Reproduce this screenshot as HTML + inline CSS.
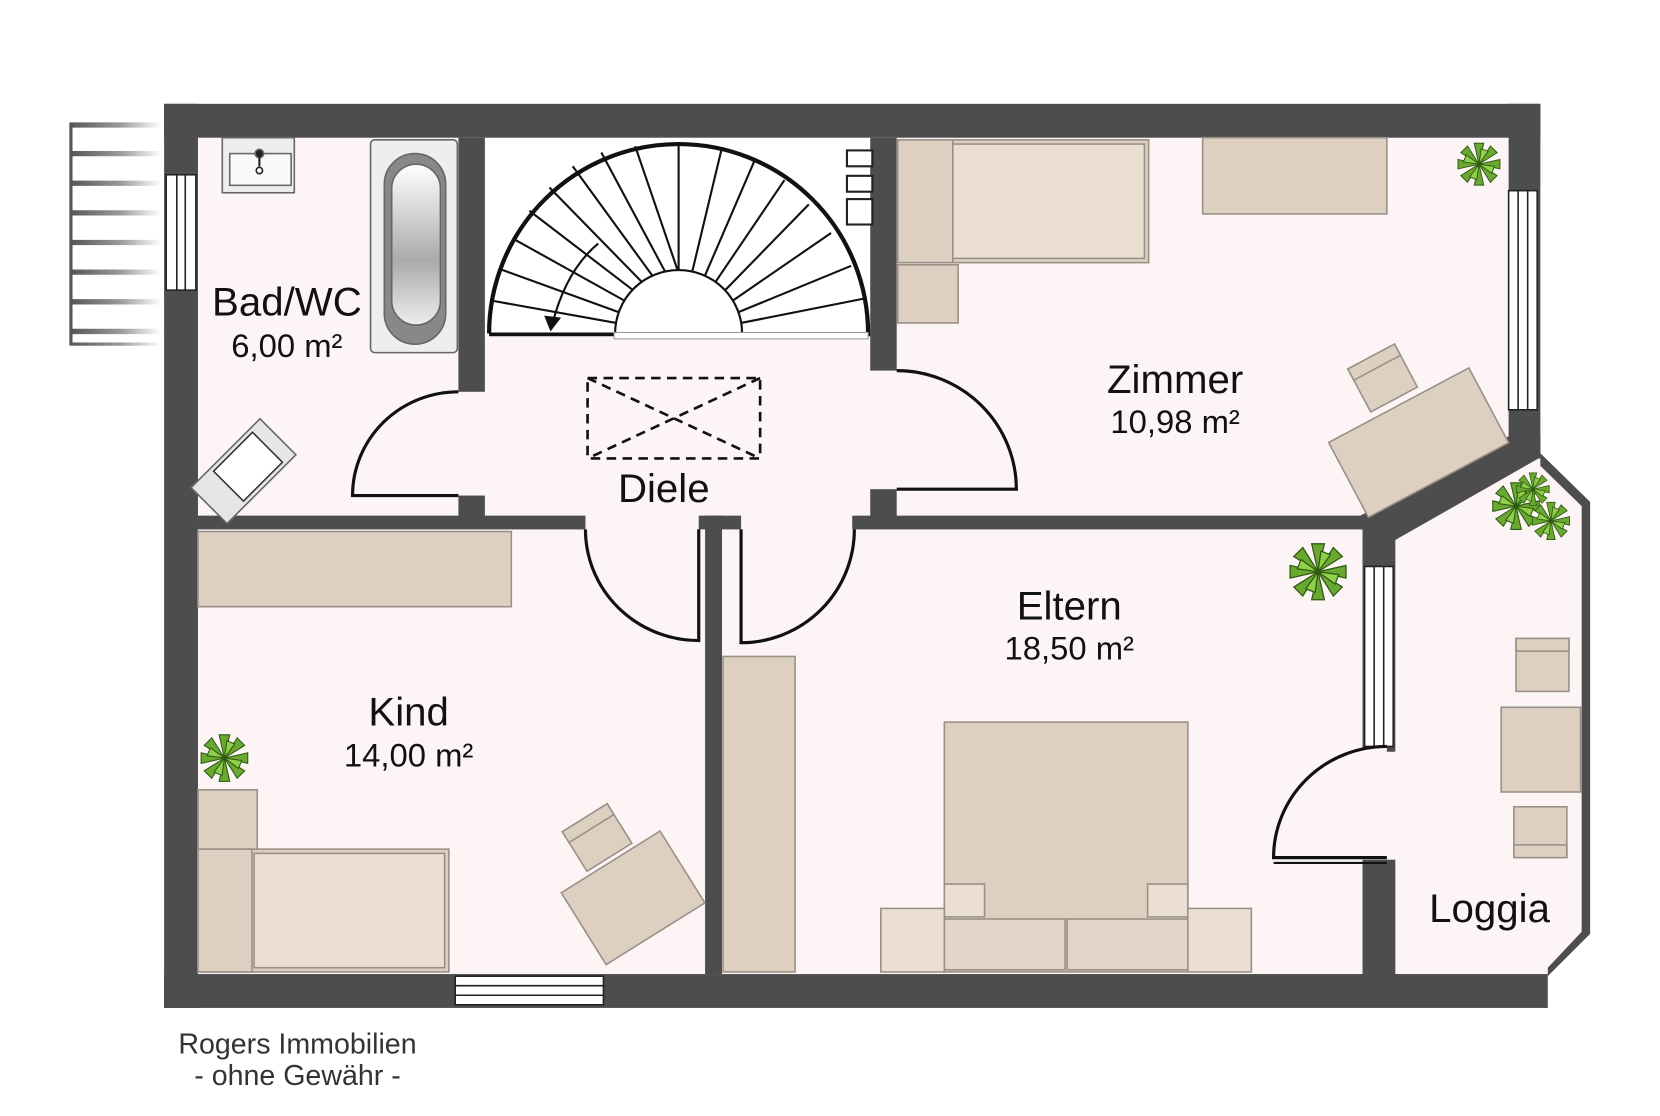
<!DOCTYPE html>
<html><head><meta charset="utf-8"><style>
html,body{margin:0;padding:0;background:#fff;}
svg{display:block;}
text{font-family:"Liberation Sans",sans-serif;fill:#111;text-anchor:middle;}
</style></head><body>
<svg width="1660" height="1116" viewBox="0 0 1568 1054" xmlns="http://www.w3.org/2000/svg">
<defs>
<linearGradient id="rad" gradientUnits="userSpaceOnUse" x1="66" y1="0" x2="152" y2="0"><stop offset="0" stop-color="#555"/><stop offset="0.55" stop-color="#999"/><stop offset="1" stop-color="#fff"/></linearGradient>
<linearGradient id="tub" x1="0" y1="0" x2="0" y2="1"><stop offset="0" stop-color="#fff"/><stop offset="0.6" stop-color="#aaa"/><stop offset="1" stop-color="#eee"/></linearGradient>
<g id="plant"><g fill="#6aa832" stroke="#2d5a12" stroke-width="1">
<path d="M0,0 L-5,-22 L5,-22Z"/><path d="M0,0 L-5,-22 L5,-22Z" transform="rotate(45)"/><path d="M0,0 L-5,-22 L5,-22Z" transform="rotate(90)"/><path d="M0,0 L-5,-22 L5,-22Z" transform="rotate(135)"/><path d="M0,0 L-5,-22 L5,-22Z" transform="rotate(180)"/><path d="M0,0 L-5,-22 L5,-22Z" transform="rotate(225)"/><path d="M0,0 L-5,-22 L5,-22Z" transform="rotate(270)"/><path d="M0,0 L-5,-22 L5,-22Z" transform="rotate(315)"/>
<path d="M0,0 L-4,-16 L4,-16Z" fill="#8fcf4a" transform="rotate(22)"/><path d="M0,0 L-4,-16 L4,-16Z" fill="#8fcf4a" transform="rotate(112)"/><path d="M0,0 L-4,-16 L4,-16Z" fill="#8fcf4a" transform="rotate(202)"/><path d="M0,0 L-4,-16 L4,-16Z" fill="#8fcf4a" transform="rotate(292)"/></g></g>
</defs>
<polygon points="155,98 1455,98 1455,430 1500,475 1500,880 1462,920 1462,952 155,952" fill="#fdf5f5"/>
<rect x="458" y="130" width="364" height="188" fill="#fff"/>
<g stroke="url(#rad)" stroke-width="5">
<line x1="66" y1="118" x2="152" y2="118"/><line x1="66" y1="145" x2="152" y2="145"/><line x1="66" y1="173" x2="152" y2="173"/><line x1="66" y1="201" x2="152" y2="201"/><line x1="66" y1="229" x2="152" y2="229"/><line x1="66" y1="257" x2="152" y2="257"/><line x1="66" y1="285" x2="152" y2="285"/><line x1="66" y1="313" x2="152" y2="313"/></g>
<line x1="67" y1="116" x2="67" y2="326" stroke="#555" stroke-width="3"/>
<line x1="66" y1="325" x2="152" y2="325" stroke="url(#rad)" stroke-width="3"/>
<g fill="#4d4d4d">
<rect x="155" y="98" width="1300" height="32"/>
<rect x="155" y="98" width="32" height="854"/>
<rect x="155" y="920" width="1307" height="32"/>
<rect x="1425" y="98" width="30" height="335"/>
<polygon points="1455,428 1502,474 1502,882 1462,922 1462,914 1494,880 1494,478 1455,440"/>
<rect x="433" y="130" width="25" height="240"/>
<rect x="433" y="468" width="25" height="30"/>
<rect x="187" y="487" width="366" height="13"/>
<rect x="822" y="130" width="25" height="220"/>
<rect x="822" y="462" width="25" height="36"/>
<rect x="660" y="487" width="40" height="13"/>
<rect x="666" y="487" width="16" height="433"/>
<rect x="805" y="487" width="490" height="13"/>
<polygon points="1285,487 1425,412 1455,412 1455,432 1318,510 1290,510"/>
<rect x="1287" y="500" width="31" height="210"/>
<rect x="1287" y="812" width="31" height="110"/>
</g>
<g fill="#fff" stroke="#222" stroke-width="1.5">
<rect x="157" y="165" width="28" height="109"/><line x1="167" y1="165" x2="167" y2="274"/><line x1="175" y1="165" x2="175" y2="274"/>
<rect x="1425" y="180" width="27" height="207"/><line x1="1434" y1="180" x2="1434" y2="387"/><line x1="1443" y1="180" x2="1443" y2="387"/>
<rect x="1289" y="535" width="27" height="170"/><line x1="1298" y1="535" x2="1298" y2="705"/><line x1="1307" y1="535" x2="1307" y2="705"/>
<rect x="430" y="922" width="140" height="27"/><line x1="430" y1="931" x2="570" y2="931"/><line x1="430" y1="940" x2="570" y2="940"/>
</g>
<g stroke="#111" fill="none">
<path d="M462,315 A179,179 0 0 1 820,315" stroke-width="4"/>
<path d="M581,315 A60,60 0 0 1 701,315" stroke-width="2"/>
<line x1="462" y1="316" x2="822" y2="316" stroke-width="3"/>
<g stroke-width="2">
<line x1="581" y1="315" x2="462" y2="315"/>
<line x1="582" y1="305" x2="465" y2="284"/>
<line x1="585" y1="295" x2="472" y2="254"/>
<line x1="590" y1="284" x2="484" y2="225"/>
<line x1="598" y1="274" x2="500" y2="199"/>
<line x1="606" y1="266" x2="519" y2="177"/>
<line x1="616" y1="260" x2="541" y2="157"/>
<line x1="628" y1="256" x2="568" y2="144"/>
<line x1="640" y1="255" x2="600" y2="138"/>
<line x1="641" y1="255" x2="641" y2="136"/>
<line x1="654" y1="256" x2="682" y2="139"/>
<line x1="666" y1="260" x2="713" y2="151"/>
<line x1="676" y1="266" x2="741" y2="170"/>
<line x1="685" y1="274" x2="764" y2="193"/>
<line x1="692" y1="284" x2="785" y2="220"/>
<line x1="697" y1="295" x2="804" y2="251"/>
<line x1="700" y1="305" x2="816" y2="282"/>
</g>
<path d="M565,230 Q535,255 522,305" stroke-width="2"/>
</g>
<polygon points="514,298 530,300 520,313" fill="#111"/>
<rect x="580" y="314" width="240" height="6" fill="#fff" stroke="#999" stroke-width="1"/>
<g fill="#fff" stroke="#222" stroke-width="2"><rect x="800" y="142" width="24" height="15"/><rect x="800" y="166" width="24" height="15"/><rect x="800" y="188" width="24" height="24"/></g>
<g stroke="#111" stroke-width="2.5" stroke-dasharray="9,6" fill="none">
<rect x="555" y="357" width="163" height="76"/><line x1="555" y1="357" x2="718" y2="433"/><line x1="718" y1="357" x2="555" y2="433"/></g>
<g stroke="#111" stroke-width="3" fill="#fdf5f5">
<path d="M433,370 A100,98 0 0 0 333,468 L433,468"/>
<path d="M847,350 A113,112 0 0 1 960,462 L847,462"/>
<path d="M553,500 A107,105 0 0 0 660,605 L660,500"/>
<path d="M807,500 A107,107 0 0 1 700,607 L700,500"/>
<path d="M1310,705 A107,105 0 0 0 1203,810 L1310,810"/>
</g>
<line x1="1203" y1="815" x2="1310" y2="815" stroke="#111" stroke-width="2"/>
<g stroke="#666" stroke-width="1.5">
<rect x="210" y="130" width="68" height="52" fill="#eee"/><rect x="217" y="145" width="58" height="30" fill="#fafafa"/>
<circle cx="245" cy="145" r="4" fill="#222"/><line x1="245" y1="145" x2="245" y2="157" stroke="#222" stroke-width="2"/><circle cx="245" cy="161" r="3" fill="#fff" stroke="#222"/>
<rect x="350" y="132" width="82" height="201" rx="4" fill="#eeeeee"/>
<rect x="363" y="145" width="58" height="180" rx="29" fill="#888"/>
<rect x="370" y="155" width="46" height="152" rx="23" fill="url(#tub)"/>
<g transform="translate(230,445) rotate(-45)"><rect x="-46" y="-24" width="92" height="48" fill="#e6e6e6"/><rect x="-20" y="-20" width="52" height="40" fill="#fff" stroke="#333"/></g>
</g>
<g fill="#ddd0c0" stroke="#9a9088" stroke-width="1.5">
<rect x="848" y="132" width="237" height="116"/><rect x="848" y="132" width="52" height="116"/><rect x="900" y="136" width="181" height="108" fill="#eadfd2"/>
<rect x="848" y="250" width="57" height="55"/>
<rect x="1136" y="130" width="174" height="72"/>
<g transform="translate(1340,418) rotate(-28)"><rect x="-75" y="-40" width="150" height="80"/></g>
<g transform="translate(1306,357) rotate(-28)"><rect x="-25" y="-23" width="50" height="46"/><rect x="-25" y="-23" width="50" height="12"/></g>
<rect x="187" y="502" width="296" height="71"/>
<rect x="187" y="746" width="56" height="57"/>
<rect x="187" y="802" width="237" height="116"/><rect x="187" y="802" width="51" height="116"/><rect x="240" y="806" width="180" height="108" fill="#eadfd2"/>
<g transform="translate(598,848) rotate(-32)"><rect x="-55" y="-40" width="110" height="80"/></g>
<g transform="translate(564,791) rotate(-32)"><rect x="-25" y="-22" width="50" height="44"/><rect x="-25" y="-22" width="50" height="12"/></g>
<rect x="683" y="620" width="68" height="298"/>
<rect x="892" y="682" width="230" height="236"/>
<polygon points="892,835 930,835 930,866 892,866" fill="#eadfd2"/><polygon points="1122,835 1084,835 1084,866 1122,866" fill="#eadfd2"/>
<rect x="892" y="868" width="114" height="48" fill="#e2d6c8"/><rect x="1008" y="868" width="114" height="48" fill="#e2d6c8"/>
<rect x="832" y="858" width="60" height="60" fill="#eadfd2"/><rect x="1122" y="858" width="60" height="60" fill="#eadfd2"/>
<rect x="1432" y="603" width="50" height="50"/><rect x="1432" y="603" width="50" height="12"/>
<rect x="1418" y="668" width="75" height="80"/>
<rect x="1430" y="762" width="50" height="48"/><rect x="1430" y="798" width="50" height="12"/>
</g>
<use href="#plant" transform="translate(1397,155) scale(0.9)"/>
<use href="#plant" transform="translate(1432,478)"/>
<use href="#plant" transform="translate(1465,492) scale(0.8)"/>
<use href="#plant" transform="translate(1448,462) scale(0.7)"/>
<use href="#plant" transform="translate(1245,540) scale(1.2)"/>
<use href="#plant" transform="translate(212,716)"/>
<text x="271" y="298" font-size="38">Bad/WC</text>
<text x="271" y="337" font-size="31">6,00 m²</text>
<text x="1110" y="371" font-size="38">Zimmer</text>
<text x="1110" y="409" font-size="31">10,98 m²</text>
<text x="627" y="474" font-size="38">Diele</text>
<text x="1010" y="585" font-size="38">Eltern</text>
<text x="1010" y="623" font-size="31">18,50 m²</text>
<text x="386" y="685" font-size="38">Kind</text>
<text x="386" y="724" font-size="31">14,00 m²</text>
<text x="1407" y="871" font-size="38">Loggia</text>
<text x="281" y="995" font-size="27" style="fill:#333">Rogers Immobilien</text>
<text x="281" y="1025" font-size="27" style="fill:#333">- ohne Gewähr -</text>
</svg>
</body></html>
